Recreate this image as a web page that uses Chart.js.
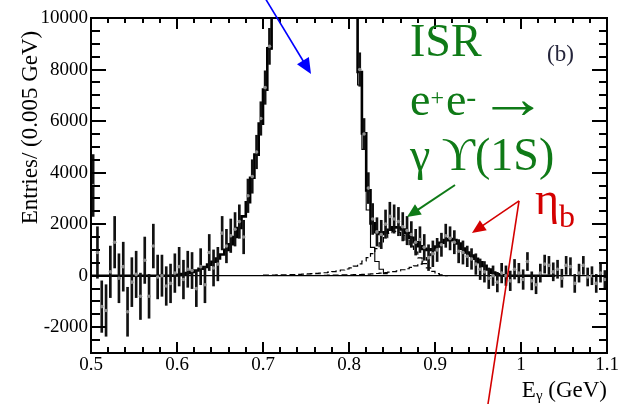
<!DOCTYPE html>
<html>
<head>
<meta charset="utf-8">
<script src="https://cdn.jsdelivr.net/npm/chart.js@4.4.1/dist/chart.umd.min.js"></script>
<style>
  html, body { margin: 0; padding: 0; background: #fff; }
  canvas { display: block; }
</style>
</head>
<body>
<canvas id="spectrum" width="623" height="404"></canvas>
<script>
// photon energy binning (GeV)
const binLow = 0.5;
const binWidth = 0.005;

// background-subtracted entries per bin, 0.500 - 1.100 GeV
const entries = [
  3500, 900, -1200, -1350, 150, 1300, -100, 350, -1400, -250,
  50, -800, 600, -800, 1150, -50, 0, -400, -300, 100,
  350, -150, 250, 200, -500, 350, -350, 900, 300, 450,
  1650, 1150, 1550, 1800, 2100, 1500, 3100, 3850, 4800, 6100,
  7300, 8900, 11300, 14200, 17600, 21200, 25100, 29000, 33100, 36100,
  38400, 39600, 39100, 37200, 34000, 30200, 26100, 22200, 18100, 14800,
  12400, 11100, 8000, 5500, 3400, 2200, 1700, 1600, 2000, 2300,
  2200, 2100, 1900, 1750, 1600, 1300, 1400, 1100, 700, 850,
  1000, 1200, 1550, 1450, 1300, 950, 900, 750, 650, 450,
  250, 150, -100, 0, -250, 100, 0, -200, 250, 100,
  -150, 550, -200, -350, 100, 450, 400, 150, 250, -100,
  400, 350, -300, 100, 400, -50, 0, -300, 100, -150
];
const entryErrors = [
  1200, 1000, 1000, 1000, 1000, 1000, 950, 950, 950, 950,
  900, 900, 900, 850, 850, 850, 800, 750, 750, 750,
  750, 750, 700, 700, 700, 700, 700, 700, 700, 650,
  650, 650, 650, 650, 650, 650, 650, 650, 650, 650,
  650, 700, 700, 750, 800, 850, 900, 950, 1000, 1000,
  1000, 1000, 1000, 1000, 1000, 950, 900, 850, 800, 750,
  700, 700, 650, 600, 600, 600, 550, 550, 550, 550,
  550, 550, 550, 550, 500, 500, 500, 500, 500, 500,
  450, 450, 450, 450, 450, 450, 450, 400, 400, 400,
  400, 400, 400, 380, 380, 380, 380, 380, 380, 380,
  380, 350, 350, 350, 350, 350, 350, 350, 350, 350,
  350, 350, 350, 350, 350, 350, 350, 350, 350, 350
];

// fit components, each starting at the given bin index
const peakStart = 19;
const peakFit = [
  10, 30, 60, 100, 150, 200, 270, 340, 430, 540,
  670, 820, 1000, 1220, 1500, 1850, 2300, 2850, 3800, 4700,
  5900, 7200, 8800, 11000, 14000, 17500, 21000, 25000, 29000, 33000,
  36000, 38500, 39500, 39000, 37000, 34000, 30000, 26000, 22000, 18000,
  14500, 12000, 10500, 7400, 4900, 2550, 1100, 550, 250, 80
];
const isrStart = 40;
const isrFit = [
  20, 22, 25, 28, 32, 36, 40, 45, 52, 60,
  70, 80, 90, 100, 115, 135, 160, 190, 220, 260,
  300, 370, 460, 570, 700, 860, 1050, 1270, 1480, 1640,
  1720, 1680, 1560, 1380, 1150, 920, 690, 470, 300, 170,
  80, 30, 0
];
const etabStart = 50;
const etabFit = [
  10, 12, 14, 16, 18, 20, 22, 25, 28, 31,
  35, 40, 45, 52, 60, 70, 85, 100, 120, 140,
  160, 190, 230, 270, 320, 380, 450, 570, 700, 850,
  1050, 1250, 1380, 1420, 1380, 1250, 1050, 900, 780, 660,
  520, 380, 240, 120, 50, 15, 0
];
const totalStart = 0;
const totalFit = [
  0, 0, 0, 0, 0, 0, 0, 0, 0, 0,
  0, 0, 0, 0, 0, 0, 0, 0, 0,
  10, 30, 60, 100, 150, 200, 270, 340, 430, 540,
  670, 820, 1000, 1220, 1500, 1850, 2300, 2850, 3800, 4700,
  5900, 7220, 8820, 11025, 14028, 17532, 21036, 25040, 29045, 33052,
  36060, 38580, 39590, 39104, 37116, 34133, 30155, 26182, 22215, 18248,
  14791, 12335, 10910, 7905, 5522, 3310, 2030, 1685, 1620, 1680,
  1780, 1880, 1870, 1790, 1650, 1470, 1300, 1140, 1040, 1000,
  1020, 1130, 1280, 1380, 1420, 1380, 1250, 1050, 900, 780,
  660, 520, 380, 240, 120, 50, 15, 0, 0, 0,
  0, 0, 0, 0, 0, 0, 0, 0, 0
];

const xTickValues = [0.5, 0.6, 0.7, 0.8, 0.9, 1.0, 1.1];
const yTickValues = [-2000, 0, 2000, 4000, 6000, 8000, 10000];

const serif = '"Liberation Serif", "DejaVu Serif", serif';
const green = '#0f7a17';
const red = '#d40000';

const binEdge = (i) => binLow + binWidth * i;
const binCenter = (i) => binLow + binWidth * (i + 0.5);

// step histogram: one point per left edge plus the closing right edge
function histPoints(start, values) {
  const pts = values.map((v, k) => ({ x: binEdge(start + k), y: v }));
  pts.push({ x: binEdge(start + values.length), y: values[values.length - 1] });
  return pts;
}

// annotation arrows and texts, anchored in (GeV, entries)
const arrows = [
  { from: [0.7023, 10780], to: [0.7558, 7830], color: '#0000ff', width: 1.6, head: 17 },
  { from: [0.9233, 3520], to: [0.8674, 2280], color: green, width: 2, head: 15 },
  { from: [0.9977, 2900], to: [0.9430, 1660], color: red, width: 1.6, head: 15 }
];
const lines = [
  { from: [0.9977, 2900], to: [0.9616, -4980], color: red, width: 1.6 }
];
const notes = [
  { at: [0.8709, 8526], color: green, pieces: [{ text: 'ISR', size: 46 }] },
  { at: [0.8709, 6232], color: green, pieces: [
    { text: 'e', size: 46 }, { text: '+', size: 24, dy: -10 },
    { text: 'e', size: 46, gap: 2 }, { text: '-', size: 30, dy: -8 },
    { text: '\u2192', size: 58, gap: 15, ink: 43, dy: 3 }
  ] },
  { at: [0.8709, 4102], color: green, pieces: [{ text: '\u03B3 \u03D2(1S)', size: 46 }] },
  { at: [1.0163, 2394], color: red, pieces: [{ text: '\u03B7', size: 46 }, { text: 'b', size: 32, dy: 13 }] },
  { at: [1.0302, 8333], color: '#24243a', pieces: [{ text: '(b)', size: 23 }] }
];

function drawPieces(ctx, x, y, pieces, color) {
  ctx.fillStyle = color;
  ctx.textAlign = 'left';
  ctx.textBaseline = 'alphabetic';
  let cx = x;
  pieces.forEach(p => {
    ctx.font = `${p.size}px ${serif}`;
    cx += p.gap || 0;
    const m = ctx.measureText(p.text);
    if (p.ink) {
      // stretch the glyph so its ink spans the wanted width
      const inkW = m.actualBoundingBoxLeft + m.actualBoundingBoxRight;
      ctx.save();
      ctx.translate(cx, y + (p.dy || 0));
      ctx.scale(p.ink / inkW, 1);
      ctx.fillText(p.text, m.actualBoundingBoxLeft, 0);
      ctx.restore();
      cx += p.ink;
    } else {
      ctx.fillText(p.text, cx, y + (p.dy || 0));
      cx += m.width;
    }
  });
  return cx - x;
}

function drawArrow(ctx, x1, y1, x2, y2, color, width, head) {
  const ang = Math.atan2(y2 - y1, x2 - x1);
  ctx.strokeStyle = color;
  ctx.fillStyle = color;
  ctx.lineWidth = width;
  ctx.beginPath();
  ctx.moveTo(x1, y1);
  ctx.lineTo(x2 - Math.cos(ang) * head * 0.8, y2 - Math.sin(ang) * head * 0.8);
  ctx.stroke();
  ctx.beginPath();
  ctx.moveTo(x2, y2);
  ctx.lineTo(x2 - head * Math.cos(ang - 0.42), y2 - head * Math.sin(ang - 0.42));
  ctx.lineTo(x2 - head * Math.cos(ang + 0.42), y2 - head * Math.sin(ang + 0.42));
  ctx.closePath();
  ctx.fill();
}

function tickMark(ctx, x1, y1, x2, y2) {
  ctx.beginPath();
  ctx.moveTo(x1, y1);
  ctx.lineTo(x2, y2);
  ctx.stroke();
}

// frame with inward ticks on all four sides, axis titles and the notes
const framePlugin = {
  id: 'frameAndNotes',
  afterDraw(chart) {
    const { ctx, chartArea: a, scales: { x, y } } = chart;
    const px = (v) => x.getPixelForValue(v);
    const py = (v) => y.getPixelForValue(v);
    ctx.save();
    ctx.setLineDash([]);
    ctx.strokeStyle = '#000';
    ctx.lineWidth = 2;
    for (let k = 0; k <= 30; k++) {
      const xp = Math.round(px(0.5 + 0.02 * k));
      const major = k % 5 === 0;
      tickMark(ctx, xp, a.bottom, xp, a.bottom - (major ? 11 : 6));
      tickMark(ctx, xp, a.top, xp, a.top + (major ? 11 : 5));
    }
    for (let k = 0; k <= 26; k++) {
      const v = -3000 + 500 * k;
      const yp = Math.round(py(v));
      const major = v % 2000 === 0;
      tickMark(ctx, a.left, yp, a.left + (major ? 15 : 9), yp);
      tickMark(ctx, a.right, yp, a.right - (major ? 15 : 8), yp);
    }
    ctx.strokeRect(a.left, a.top, a.right - a.left, a.bottom - a.top);

    // axis titles
    ctx.fillStyle = '#000';
    ctx.save();
    ctx.translate(37, (a.top + a.bottom) / 2 - 58);
    ctx.rotate(-Math.PI / 2);
    ctx.font = `23px ${serif}`;
    ctx.textAlign = 'center';
    ctx.textBaseline = 'alphabetic';
    ctx.fillText('Entries/ (0.005 GeV)', 0, 0);
    ctx.restore();
    const xTitle = [{ text: 'E', size: 23 }, { text: '\u03B3', size: 15, dy: 3 }, { text: ' (GeV)', size: 23 }];
    let w = 0;
    xTitle.forEach(p => { ctx.font = `${p.size}px ${serif}`; w += ctx.measureText(p.text).width; });
    drawPieces(ctx, a.right - w, 397, xTitle, '#000');

    lines.forEach(l => {
      ctx.strokeStyle = l.color;
      ctx.lineWidth = l.width;
      ctx.beginPath();
      ctx.moveTo(px(l.from[0]), py(l.from[1]));
      ctx.lineTo(px(l.to[0]), py(l.to[1]));
      ctx.stroke();
    });
    arrows.forEach(r => drawArrow(ctx, px(r.from[0]), py(r.from[1]), px(r.to[0]), py(r.to[1]), r.color, r.width, r.head));
    notes.forEach(n => drawPieces(ctx, px(n.at[0]), py(n.at[1]), n.pieces, n.color));
    ctx.restore();
  }
};

new Chart(document.getElementById('spectrum'), {
  type: 'bar',
  data: {
    datasets: [
      {
        type: 'line',
        data: entries.map((v, i) => ({ x: binCenter(i), y: v })),
        showLine: false,
        pointRadius: 1.8,
        pointBorderWidth: 0,
        pointBackgroundColor: '#8c8c8c',
        clip: 0
      },
      {
        type: 'bar',
        data: entries.map((v, i) => ({ x: binCenter(i), y: [v - entryErrors[i], v + entryErrors[i]] })),
        backgroundColor: '#111',
        borderWidth: 0,
        barThickness: 2,
        grouped: false,
        clip: 0
      },
      {
        type: 'line',
        data: histPoints(totalStart, totalFit),
        stepped: true,
        borderColor: '#000',
        borderWidth: 2.6,
        pointRadius: 0,
        fill: false,
        clip: 0
      },
      {
        type: 'line',
        data: histPoints(peakStart, peakFit),
        stepped: true,
        borderColor: '#000',
        borderWidth: 1.1,
        pointRadius: 0,
        fill: false,
        clip: 0
      },
      {
        type: 'line',
        data: histPoints(isrStart, isrFit),
        stepped: true,
        borderColor: '#000',
        borderWidth: 1.2,
        borderDash: [6, 3],
        pointRadius: 0,
        fill: false,
        clip: 0
      },
      {
        type: 'line',
        data: histPoints(etabStart, etabFit),
        stepped: true,
        borderColor: '#000',
        borderWidth: 1.2,
        borderDash: [6, 3],
        pointRadius: 0,
        fill: false,
        clip: 0
      },
      {
        type: 'line',
        data: [{ x: xTickValues[0], y: 0 }, { x: xTickValues[xTickValues.length - 1], y: 0 }],
        borderColor: '#000',
        borderWidth: 1.2,
        pointRadius: 0,
        clip: 0
      }
    ]
  },
  options: {
    responsive: false,
    devicePixelRatio: 1,
    animation: false,
    layout: { padding: { left: 0, top: 18, right: 16, bottom: 0 } },
    plugins: { legend: { display: false }, tooltip: { enabled: false } },
    scales: {
      x: {
        type: 'linear',
        min: 0.5,
        max: 1.1,
        offset: false,
        grid: { display: false, drawTicks: false },
        border: { display: false },
        afterBuildTicks: (s) => { s.ticks = xTickValues.map(value => ({ value })); },
        afterFit: (s) => { s.height = 51; },
        ticks: {
          autoSkip: false,
          maxRotation: 0,
          padding: 1,
          color: '#000',
          font: { family: serif, size: 19 },
          callback: (v) => String(v)
        }
      },
      y: {
        type: 'linear',
        min: -3000,
        max: 10000,
        beginAtZero: false,
        grid: { display: false, drawTicks: false },
        border: { display: false },
        afterBuildTicks: (s) => { s.ticks = yTickValues.map(value => ({ value })); },
        afterFit: (s) => { s.width = 91; },
        ticks: {
          padding: 3,
          color: '#000',
          font: { family: serif, size: 19 },
          callback: (v) => String(v)
        }
      }
    }
  },
  plugins: [framePlugin]
});
</script>
</body>
</html>
